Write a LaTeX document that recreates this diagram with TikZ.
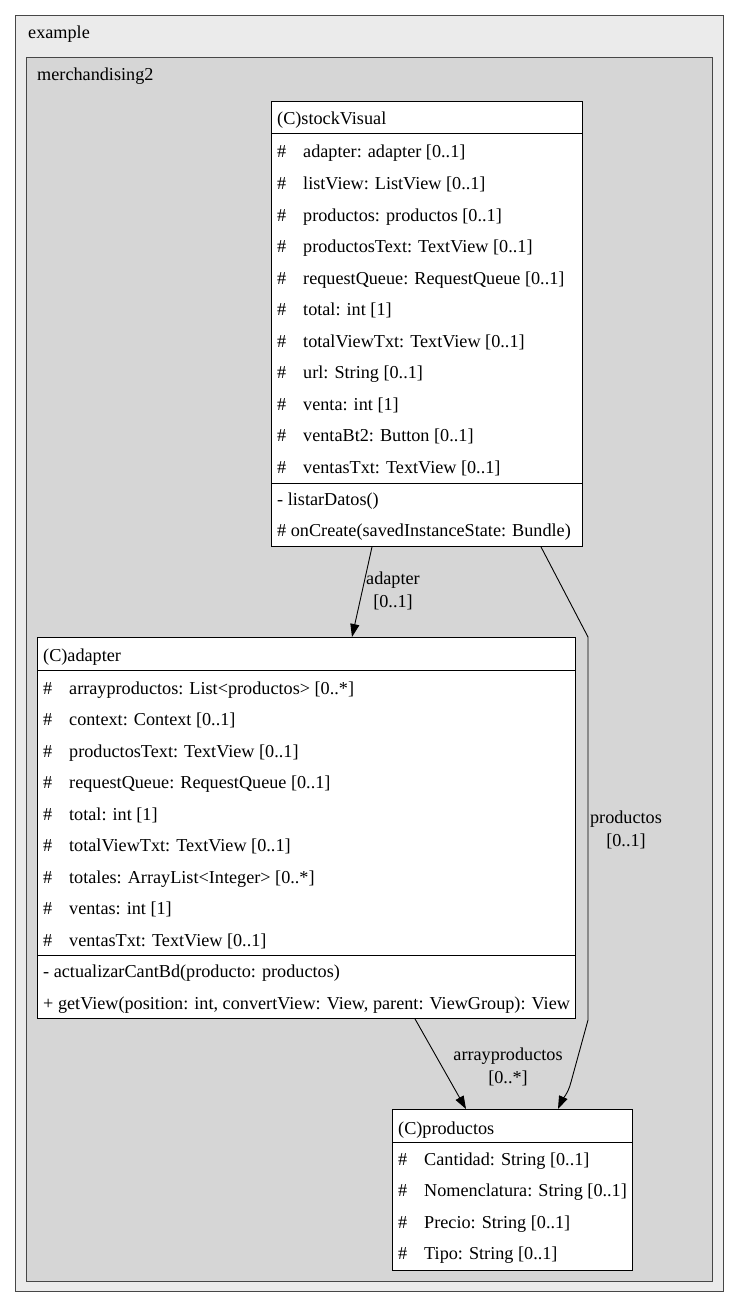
\documentclass[tikz,border=0pt]{standalone}
\usepackage{fontspec}
\setmainfont{Liberation Serif}
\usetikzlibrary{arrows.meta,calc}
\begin{document}
\begin{tikzpicture}[x=1pt,y=-1pt,
  cluster/.style={draw=black!72, line width=1.3pt, anchor=north west, inner sep=0pt},
  classbox/.style={draw=black, fill=white, line width=0.9pt, anchor=north west, inner sep=0pt},
  txt/.style={anchor=base west, inner sep=0pt, font=\fontsize{18.2}{22.4}\selectfont},
  lbl/.style={anchor=center, inner sep=0pt, align=center, font=\fontsize{18.2}{22.6}\selectfont},
  sepline/.style={line width=0.9pt},
  edge/.style={line width=0.9pt, -{Triangle[length=13pt,width=9pt]}}
]
\useasboundingbox (0,0) rectangle (739,1308);
% clusters
\node[cluster, fill=black!8, minimum width=708pt, minimum height=1276pt] (ex) at (15,15) {};
\node[txt] (exlbl) at (28,38.5) {example};
\node[cluster, fill=black!16, minimum width=686pt, minimum height=1224pt] (mer) at (26,57) {};
\node[txt] (merlbl) at (37,80.5) {merchandising2};
% stockVisual
\node[classbox, minimum width=311pt, minimum height=445pt] (sv) at (271,101) {};
\node[txt] (svh) at (277,125) {(C)stockVisual};
\draw[sepline] (sv.west |- 0,133) coordinate (svl1) -- (sv.east |- 0,133) coordinate (svr1);
\foreach \t [count=\i] in {{adapter: adapter [0..1]},{listView: ListView [0..1]},{productos: productos [0..1]},{productosText: TextView [0..1]},{requestQueue: RequestQueue [0..1]},{total: int [1]},{totalViewTxt: TextView [0..1]},{url: String [0..1]},{venta: int [1]},{ventaBt2: Button [0..1]},{ventasTxt: TextView [0..1]}}
  \node[txt] (sva\i) at (277,{158+31.5*(\i-1)}) {\makebox[26pt][l]{\#}\t};
\draw[sepline] (sv.west |- 0,483) coordinate (svl2) -- (sv.east |- 0,483) coordinate (svr2);
\node[txt] (svm1) at (277,505) {- listarDatos()};
\node[txt] (svm2) at (277,536.5) {\# onCreate(savedInstanceState: Bundle)};
% adapter
\node[classbox, minimum width=538pt, minimum height=381pt] (ad) at (37,637) {};
\node[txt] (adh) at (43,661) {(C)adapter};
\draw[sepline] (ad.west |- 0,670) coordinate (adl1) -- (ad.east |- 0,670) coordinate (adr1);
\foreach \t [count=\i] in {{arrayproductos: List<productos> [0..*]},{context: Context [0..1]},{productosText: TextView [0..1]},{requestQueue: RequestQueue [0..1]},{total: int [1]},{totalViewTxt: TextView [0..1]},{totales: ArrayList<Integer> [0..*]},{ventas: int [1]},{ventasTxt: TextView [0..1]}}
  \node[txt] (ada\i) at (43,{694+31.5*(\i-1)}) {\makebox[26pt][l]{\#}\t};
\draw[sepline] (ad.west |- 0,955) coordinate (adl2) -- (ad.east |- 0,955) coordinate (adr2);
\node[txt] (adm1) at (43,977.5) {- actualizarCantBd(producto: productos)};
\node[txt] (adm2) at (43,1009) {+ getView(position: int, convertView: View, parent: ViewGroup): View};
% productos
\node[classbox, minimum width=240pt, minimum height=161pt] (pr) at (392,1109) {};
\node[txt] (prh) at (398,1134) {(C)productos};
\draw[sepline] (pr.west |- 0,1142) coordinate (prl1) -- (pr.east |- 0,1142) coordinate (prr1);
\foreach \t [count=\i] in {{Cantidad: String [0..1]},{Nomenclatura: String [0..1]},{Precio: String [0..1]},{Tipo: String [0..1]}}
  \node[txt] (pra\i) at (398,{1165+31.5*(\i-1)}) {\makebox[26pt][l]{\#}\t};
% edges
\draw[edge] ($(sv.south west)+(101,0)$) -- ($(ad.north west)+(315,0)$);
\node[lbl] (l1) at (393,591) {adapter\\{[0..1]}};
\coordinate (b1) at (588,637);
\coordinate (b2) at (588,1020);
\coordinate (b3) at (571,1082);
\draw[edge] ($(sv.south west)+(270,0)$) -- (b1) -- (b2) -- (b3) .. controls (568,1094) and (562,1100) .. ($(pr.north west)+(166,0)$);
\node[lbl] (l2) at (626,830) {productos\\{[0..1]}};
\draw[edge] ($(ad.south west)+(378,0)$) -- ($(pr.north west)+(74,0)$);
\node[lbl] (l3) at (508,1067) {arrayproductos\\{[0..*]}};
\end{tikzpicture}
\end{document}
